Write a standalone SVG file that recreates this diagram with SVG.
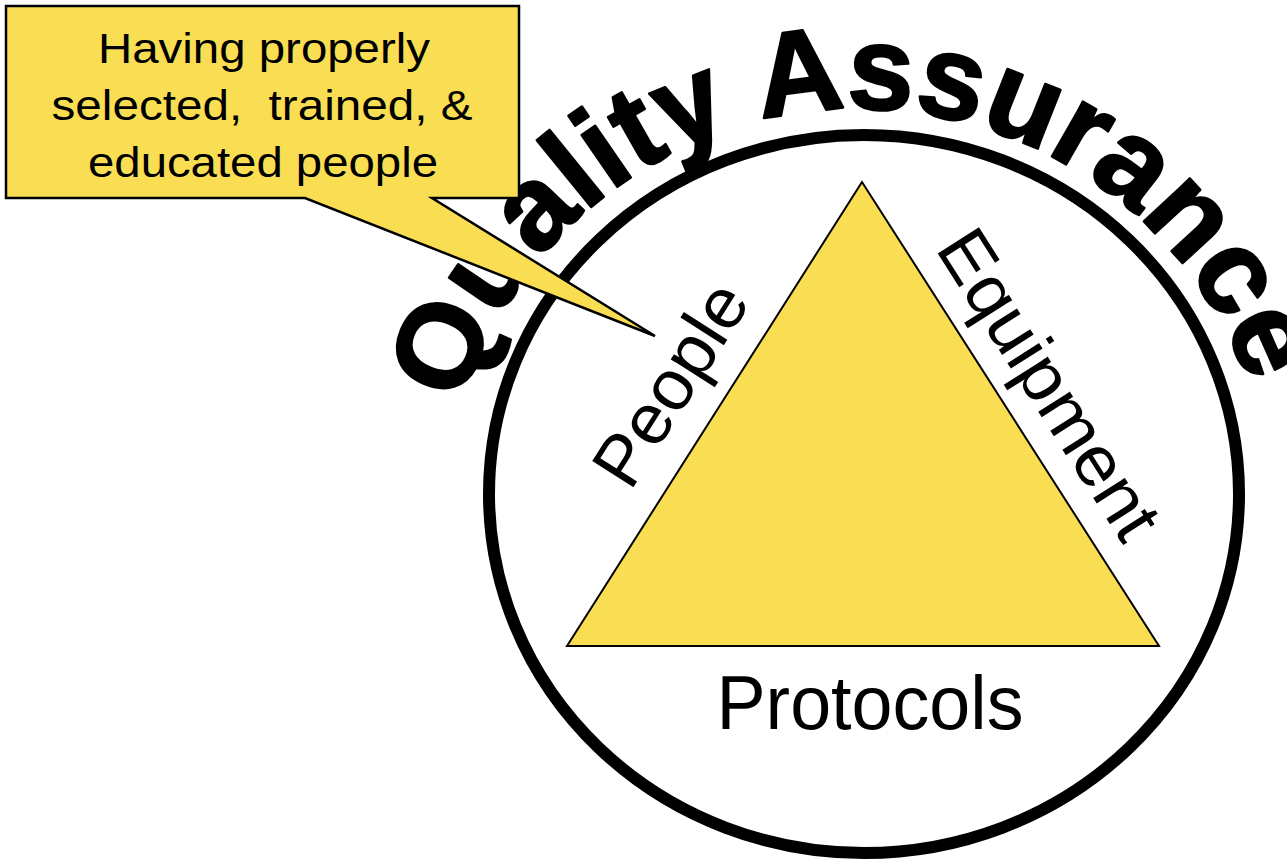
<svg xmlns="http://www.w3.org/2000/svg" width="1287" height="860" viewBox="0 0 1287 860">
  <style>
    .fill { fill: #F9DE53; stroke: #000; }
    .lbl { font-family: "Liberation Sans", Arial, sans-serif; fill: #000; }
    .title { font-family: "Liberation Sans", Arial, sans-serif; font-weight: bold; font-size: 119px; fill: #000; stroke: #000; stroke-width: 2.5; stroke-linejoin: round; }
  </style>
  <defs>
    <path id="arc" d="M 445 523 A 414 414 0 0 1 1273 523"/>
  </defs>
  <rect width="1287" height="860" fill="#fff"/>

  <g id="ring">
    <ellipse cx="864" cy="494" rx="375" ry="359" fill="#fff" stroke="#000" stroke-width="12"/>
  </g>

  <g id="title">
    <text class="title"><textPath href="#arc" startOffset="49.2%" text-anchor="middle">Quality Assurance</textPath></text>
  </g>

  <g id="triangle">
    <polygon class="fill" stroke-width="2" points="862,182 567,646 1159,646"/>
  </g>

  <g id="people">
    <text class="lbl" font-size="71" text-anchor="middle" textLength="226" lengthAdjust="spacingAndGlyphs" transform="translate(691,397) rotate(-57.5)">People</text>
  </g>

  <g id="equipment">
    <text class="lbl" font-size="71" text-anchor="middle" textLength="352" lengthAdjust="spacingAndGlyphs" transform="translate(1029,397) rotate(57.5)">Equipment</text>
  </g>

  <g id="protocols">
    <text class="lbl" font-size="76" x="870" y="729" text-anchor="middle" textLength="307" lengthAdjust="spacingAndGlyphs">Protocols</text>
  </g>

  <g id="callout">
    <path class="fill" stroke-width="2.5" stroke-linejoin="miter" d="M6,6 H519 V198 H432 L655,336 L305,198 H6 Z"/>
    <text class="lbl" font-size="42" text-anchor="middle"><tspan x="264" y="63" textLength="332" lengthAdjust="spacingAndGlyphs">Having properly</tspan><tspan x="262" y="120" textLength="421" lengthAdjust="spacingAndGlyphs">selected,&#160; trained, &amp;</tspan><tspan x="263" y="177" textLength="350" lengthAdjust="spacingAndGlyphs">educated people</tspan></text>
  </g>
</svg>
